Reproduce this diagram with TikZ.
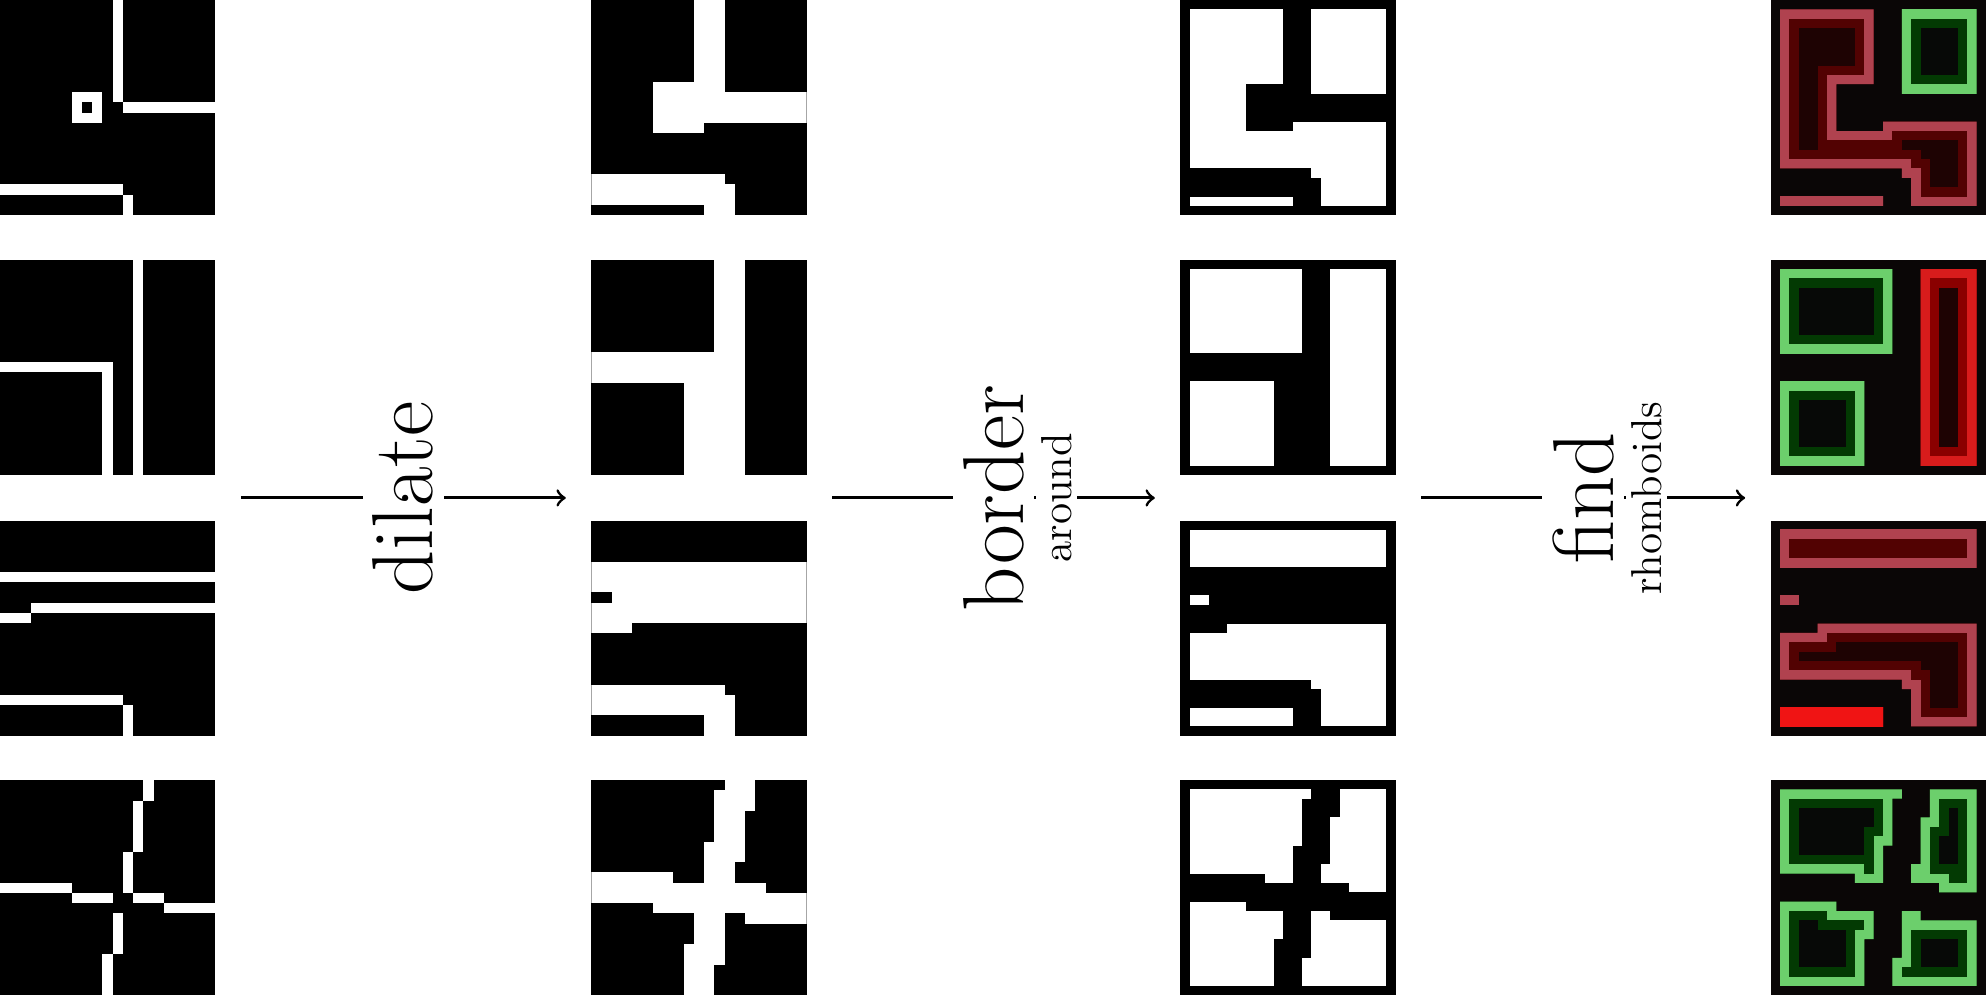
\documentclass[tikz,border=0pt]{standalone}
\usetikzlibrary{positioning}

\definecolor{bgdark}{HTML}{0A0606}
\definecolor{redin}{HTML}{1E0303}
\definecolor{redhalo}{HTML}{520202}
\definecolor{redring}{HTML}{B0424F}
\definecolor{redhot}{HTML}{F01414}
\definecolor{redbar}{HTML}{D81C1C}
\definecolor{redbarhalo}{HTML}{8A0000}
\definecolor{grnin}{HTML}{070907}
\definecolor{grnhalo}{HTML}{033A03}
\definecolor{grnring}{HTML}{6CCF6C}

% white strokes of the four inputs, x0/y0/x1/y1 in pixels
\def\strokesA{11/0/12/10, 12/10/21/11, 7/9/10/12, 0/18/12/19, 12/19/13/21}
\def\strokesB{13/0/14/21, 0/10/11/11, 10/11/11/21}
\def\strokesC{0/5/21/6, 3/8/21/9, 0/9/3/10, 0/17/12/18, 12/18/13/21}
\def\strokesD{14/0/15/2, 13/2/14/7, 12/7/13/11, 0/10/7/11, 7/11/11/12,
  13/11/16/12, 16/12/21/13, 11/13/12/17, 10/17/11/21}

\newcommand\rawimg[2]{%
  \begin{scope}[shift={(#1)}]
    \fill[black] (0,0) rectangle (21,21);
    \foreach \a/\b/\c/\d in #2 \fill[white] (\a,\b) rectangle (\c,\d);
  \end{scope}}
\newcommand\dilimg[2]{%
  \begin{scope}[shift={(#1)}]
    \fill[black] (0,0) rectangle (21,21);
    \clip (0,0) rectangle (21,21);
    \foreach \a/\b/\c/\d in #2 \fill[white] (\a-1,\b-1) rectangle (\c+1,\d+1);
  \end{scope}}
\newcommand\bordimg[2]{%
  \begin{scope}[shift={(#1)}, scale=0.91304]
    \fill[black] (0,0) rectangle (23,23);
    \fill[white] (1,1) rectangle (22,22);
    \clip (1,1) rectangle (22,22);
    \foreach \a/\b/\c/\d in #2 \fill[black] (\a,\b) rectangle (\c+2,\d+2);
  \end{scope}}
% one found region: path, inside, halo, ring
\newcommand\blob[4]{%
  \begin{scope}
    \clip #1;
    \fill[#2] #1;
    \draw[#3, line width=3.652mm] #1;
    \draw[#4, line width=1.826mm] #1;
  \end{scope}}

\begin{document}
\begin{tikzpicture}[x=1mm, y=-1mm,
  arr/.style={->, line width=0.8pt, shorten <=2.5mm, shorten >=2.5mm},
  lbl/.style={fill=white, rotate=90, inner sep=1mm,
    font=\fontsize{24}{28}\selectfont},
  sub/.style={fill=white, rotate=90, anchor=north, inner sep=0.5mm,
    font=\fontsize{12}{14}\selectfont},
]
\useasboundingbox (0,0) rectangle (193.76,97.17);

\def\rowB{25.34}
\def\rowC{50.79}
\def\rowD{76.1}

% inputs
\rawimg{0,0}{\strokesA}
\fill[black] (8,10) rectangle (9,11);
\rawimg{0,\rowB}{\strokesB}
\rawimg{0,\rowC}{\strokesC}
\rawimg{0,\rowD}{\strokesD}

% dilated
\dilimg{57.7,0}{\strokesA}
\dilimg{57.7,\rowB}{\strokesB}
\dilimg{57.7,\rowC}{\strokesC}
\dilimg{57.7,\rowD}{\strokesD}

% inverted, with border
\bordimg{115.17,0}{\strokesA}
\bordimg{115.17,\rowB}{\strokesB}
\bordimg{115.17,\rowC}{\strokesC}
\bordimg{115.17,\rowD}{\strokesD}

% found regions
\begin{scope}[shift={(172.76,0)}, scale=0.91304]
  \fill[bgdark] (0,0) rectangle (23,23);
  \begin{scope}[shift={(1,1)}]
    \blob{(0,0) -- (10,0) -- (10,8) -- (6,8) -- (6,13) -- (11,13) -- (11,12)
      -- (21,12) -- (21,21) -- (14,21) -- (14,18) -- (13,18) -- (13,17)
      -- (0,17) -- cycle}{redin}{redhalo}{redring}
    \blob{(13,0) rectangle (21,9)}{grnin}{grnhalo}{grnring}
    \blob{(0,20) rectangle (11,21)}{redin}{redhalo}{redring}
  \end{scope}
\end{scope}
\begin{scope}[shift={(172.76,\rowB)}, scale=0.91304]
  \fill[bgdark] (0,0) rectangle (23,23);
  \begin{scope}[shift={(1,1)}]
    \blob{(0,0) rectangle (12,9)}{grnin}{grnhalo}{grnring}
    \blob{(0,12) rectangle (9,21)}{grnin}{grnhalo}{grnring}
    \blob{(15,0) rectangle (21,21)}{redin}{redbarhalo}{redbar}
  \end{scope}
\end{scope}
\begin{scope}[shift={(172.76,\rowC)}, scale=0.91304]
  \fill[bgdark] (0,0) rectangle (23,23);
  \begin{scope}[shift={(1,1)}]
    \blob{(0,0) rectangle (21,4)}{redin}{redhalo}{redring}
    \blob{(0,7) rectangle (2,8)}{redin}{redhalo}{redring}
    \blob{(4,10) -- (21,10) -- (21,21) -- (14,21) -- (14,17) -- (13,17)
      -- (13,16) -- (0,16) -- (0,11) -- (4,11) -- cycle}{redin}{redhalo}{redring}
    \blob{(0,19) rectangle (11,21)}{redin}{redhot}{redhot}
  \end{scope}
\end{scope}
\begin{scope}[shift={(172.76,\rowD)}, scale=0.91304]
  \fill[bgdark] (0,0) rectangle (23,23);
  \begin{scope}[shift={(1,1)}]
    \blob{(0,0) -- (13,0) -- (13,1) -- (12,1) -- (12,6) -- (11,6) -- (11,10)
      -- (8,10) -- (8,9) -- (0,9) -- cycle}{grnin}{grnhalo}{grnring}
    \blob{(16,0) -- (21,0) -- (21,11) -- (17,11) -- (17,10) -- (14,10)
      -- (14,8) -- (15,8) -- (15,3) -- (16,3) -- cycle}{grnin}{grnhalo}{grnring}
    \blob{(0,12) -- (6,12) -- (6,13) -- (10,13) -- (10,16) -- (9,16)
      -- (9,21) -- (0,21) -- cycle}{grnin}{grnhalo}{grnring}
    \blob{(13,13) -- (15,13) -- (15,14) -- (21,14) -- (21,21) -- (12,21)
      -- (12,18) -- (13,18) -- cycle}{grnin}{grnhalo}{grnring}
  \end{scope}
\end{scope}

% steps
\coordinate (rawE) at (21,48.58);
\coordinate (dilW) at (57.7,48.58);
\coordinate (dilE) at (78.7,48.58);
\coordinate (borW) at (115.17,48.58);
\coordinate (borE) at (136.17,48.58);
\coordinate (rhoW) at (172.76,48.58);

\draw[arr] (rawE) -- node[lbl] (dilLbl) {dilate} (dilW);
\draw[arr] (dilE) -- node[lbl] (borLbl) {border} (borW);
\node[sub] (borSub) at (borLbl.south) {around};
\draw[arr] (borE) -- node[lbl] (rhoLbl) {find} (rhoW);
\node[sub] (rhoSub) at (rhoLbl.south) {rhomboids};

\end{tikzpicture}
\end{document}
